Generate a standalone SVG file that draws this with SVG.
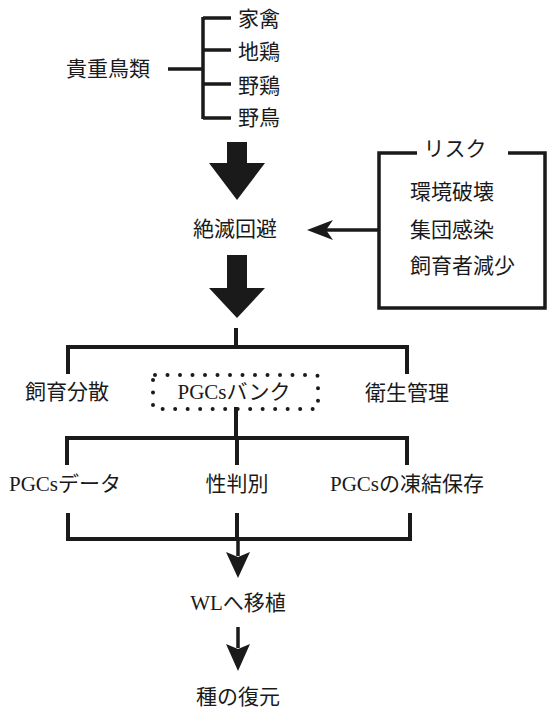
<svg xmlns="http://www.w3.org/2000/svg" width="547" height="711" viewBox="0 0 547 711">
<style>
text{font-family:"Liberation Serif","Noto Sans CJK JP",serif;font-size:21px;fill:#1a1a1a;dominant-baseline:central}
.c{text-anchor:middle}
.ln{stroke:#1a1a1a;stroke-width:4;fill:none;stroke-linecap:square}
.th{stroke:#1a1a1a;stroke-width:3.5;fill:none}
.fill{fill:#1a1a1a;stroke:none}
.dot{fill:none;stroke:#1a1a1a;stroke-width:4;stroke-linecap:round;stroke-dasharray:0 12.5}
</style>
<rect width="547" height="711" fill="#ffffff"/>
<g id="connectors">
  <path class="th" d="M168,69 H203 M203,17 V119 M203,18 H231 M203,50 H231 M203,84 H231 M203,118 H231"/>
  <path class="fill" d="M227,142 H247 V163 H265 L237,200 L209,163 H227 Z"/>
  <path class="fill" d="M227,255 H247 V288 H265 L237,318 L209,288 H227 Z"/>
  <path class="th" d="M379,230 H320"/>
  <path class="fill" d="M307,230 L333,220 L326,230 L333,240 Z"/>
  <path class="ln" d="M236,330 V347 M68,372 V347 H407 V372"/>
  <path class="ln" d="M236,409 V438 M67,463 V438 H407 V463 M237,438 V463"/>
  <path class="ln" d="M68,515 V539 H410 V515 M237,515 V539"/>
  <path class="th" d="M238,539 V556"/>
  <path class="fill" d="M226,552 L238,557 L250,552 L238,578 Z"/>
  <path class="th" d="M238,627 V648"/>
  <path class="fill" d="M226,644 L238,649 L250,644 L238,671 Z"/>
</g>
<g id="n-kicho"><text x="108" y="69" class="c">貴重鳥類</text></g>
<g id="n-kakin"><text x="238" y="19">家禽</text></g>
<g id="n-jidori"><text x="238" y="52">地鶏</text></g>
<g id="n-yakei"><text x="238" y="86">野鶏</text></g>
<g id="n-yacho"><text x="238" y="118">野鳥</text></g>
<g id="n-zetsumetsu"><text x="235" y="229" class="c">絶滅回避</text></g>
<g id="n-risk">
  <path class="th" d="M417,153 H379 V308 H545 V153 H508"/>
  <text x="455" y="149" class="c">リスク</text>
  <text x="410" y="192">環境破壊</text>
  <text x="410" y="230">集団感染</text>
  <text x="410" y="266">飼育者減少</text>
</g>
<g id="n-shiiku"><text x="67" y="392" class="c">飼育分散</text></g>
<g id="n-pgcbank">
  <rect class="dot" x="153" y="375" width="165" height="34" rx="2"/>
  <text x="234" y="392" class="c">PGCsバンク</text>
</g>
<g id="n-eisei"><text x="407" y="393" class="c">衛生管理</text></g>
<g id="n-data"><text x="65" y="484" class="c">PGCsデータ</text></g>
<g id="n-sei"><text x="237" y="484" class="c">性判別</text></g>
<g id="n-touketsu"><text x="407" y="484" class="c">PGCsの凍結保存</text></g>
<g id="n-wl"><text x="238" y="603" class="c">WLへ移植</text></g>
<g id="n-fukugen"><text x="238" y="697" class="c">種の復元</text></g>
</svg>
